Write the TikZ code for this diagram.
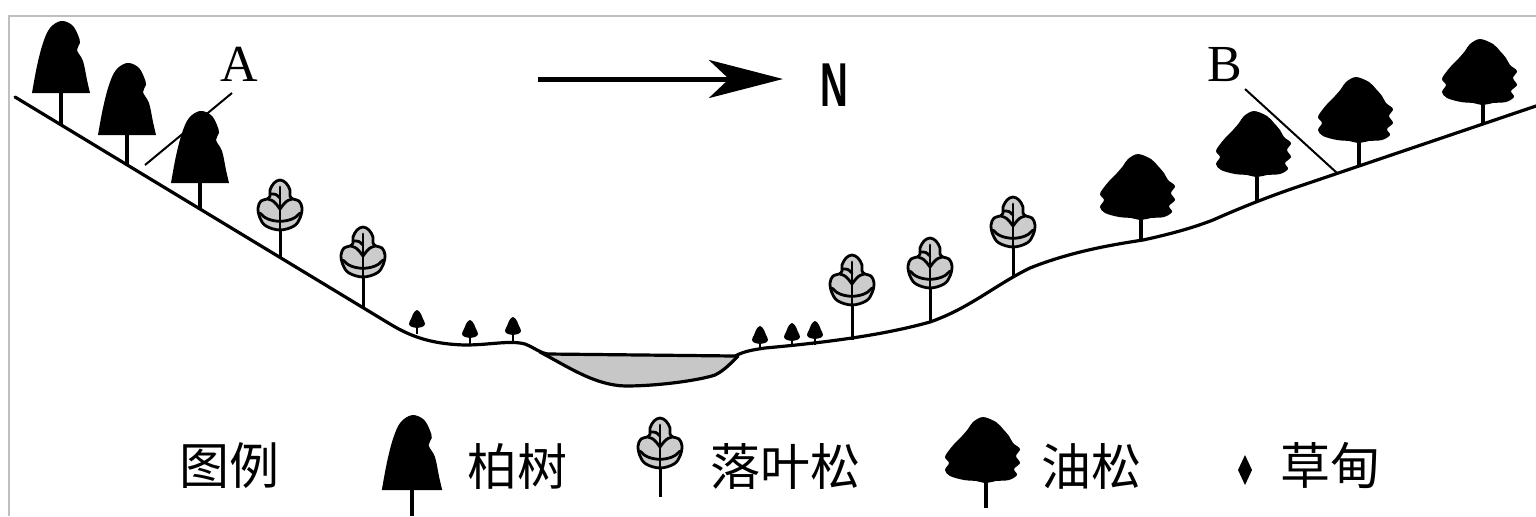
\documentclass[tikz,border=0pt]{standalone}
\usepackage{fontspec}
\setmainfont{Liberation Serif}
\newfontfamily\cjk{Noto Sans CJK SC}
\newfontfamily\sansN{Liberation Sans}
\usetikzlibrary{arrows.meta}
\begin{document}
\begin{tikzpicture}[x=0.5pt,y=-0.5pt,
  ground/.style={line width=1.6pt, line join=round, line cap=round},
  leader/.style={line width=1pt},
  trunk/.style={line width=2.2pt},
  thintrunk/.style={line width=1.5pt},
  larchline/.style={line width=1.4pt, line join=round, line cap=round},
  lbl/.style={font=\cjk\fontsize{25}{25}\selectfont, inner sep=0pt},
  letter/.style={font=\fontsize{26}{26}\selectfont, inner sep=0pt},
  % cypress crown, origin at the crown's bottom centre
  pics/cypress/.style={code={
    \fill plot[smooth, tension=0.6] coordinates {(-29,0) (-24,-27) (-18,-50)
      (-11,-65) (0,-72) (11,-68) (17,-58) (19,-50) (16,-43) (22,-32) (26,-13) (29,0)} -- cycle;
  }},
  % larch crown, origin at the crown's bottom centre
  pics/larch/.style={code={
    \filldraw[larchline, fill=black!20] plot[smooth cycle, tension=0.6] coordinates {
      (0,-50) (6,-47) (10,-40) (10,-34) (13,-31) (19,-29) (22,-22) (20,-12) (14,-4)
      (0,0) (-14,-4) (-20,-12) (-22,-22) (-19,-29) (-13,-31) (-10,-34) (-10,-40) (-6,-47)};
    \draw[larchline] (0,-43) -- (0,0);
    \draw[larchline] (-20,-17) .. controls (-12,-6) and (12,-6) .. (20,-17);
    \draw[larchline] (-12,-31) .. controls (-6,-29) .. (0,-21);
    \draw[larchline] (12,-31) .. controls (6,-29) .. (0,-21);
    \draw[larchline] (-10,-36) .. controls (-4,-36) .. (0,-32);
  }},
  % oil pine crown, origin where the trunk meets the crown
  pics/oilpine/.style={code={
    \fill plot[smooth cycle, tension=0.55] coordinates {(0,0) (10,-2) (23,-3) (31,-8)
      (28,-14) (34,-20) (30,-27) (34,-34) (27,-40) (23,-47) (17,-54) (10,-61) (-3,-66)
      (-13,-61) (-18,-54) (-24,-47) (-30,-41) (-36,-34) (-41,-26) (-37,-20) (-41,-13)
      (-36,-7) (-22,-3) (-10,-2)};
  }},
  % meadow plant, origin on the ground
  pics/grass/.style={code={
    \draw[line width=1.4pt] (0,-8) -- (0,0);
    \fill plot[smooth cycle, tension=0.7] coordinates {(0,-24) (4,-20) (6,-15) (8,-10)
      (5,-7) (0,-6) (-5,-7) (-8,-10) (-6,-15) (-4,-20)};
  }},
  pics/grassmark/.style={code={
    \fill (0,-15) .. controls (3,-7) .. (7,0) .. controls (3,7) .. (0,15)
      .. controls (-3,7) .. (-7,0) .. controls (-3,-7) .. (0,-15) -- cycle;
  }},
]
\useasboundingbox (0,0) rectangle (1536,516);

% frame
\draw[black!25, line width=1pt] (9,516) -- (9,16) -- (1536,16);

% river bed
\fill[black!22] (545,354) .. controls (570,368) and (595,385) .. (625,386)
  .. controls (660,386) and (700,380) .. (715,375)
  .. controls (725,370) and (732,362) .. (738,356) -- cycle;
\draw[ground] (540,352) .. controls (570,368) and (595,385) .. (625,386)
  .. controls (660,386) and (700,380) .. (715,375)
  .. controls (725,370) and (732,362) .. (738,356);

% cypress trees
\foreach \x/\c/\g in {61/93/125, 127/135/165, 200/183/209} {
  \draw[trunk] (\x,\c) -- (\x,\g);
  \pic at (\x,\c) {cypress};
}

% larch trees
\foreach \x/\c/\g in {280/230/258, 363/277/308, 852/305/340, 930/288/322, 1013/247/277} {
  \draw[thintrunk] (\x,\c) -- (\x,\g);
  \pic at (\x,\c) {larch};
}

% oil pines
\foreach \x/\c/\g in {1141/220/240, 1257/177/202, 1359/143/165, 1483/105/125} {
  \draw[trunk] (\x,\c) -- (\x,\g);
  \pic at (\x,\c) {oilpine};
}

% meadow
\foreach \x/\g in {417/334, 470/344, 513/341, 760/350, 792/347, 815/345} {
  \pic at (\x,\g) {grass};
}

% terrain profile
\draw[ground] (15,97) -- (390,324) .. controls (410,336) and (430,344) .. (465,345)
  .. controls (490,345) and (510,340) .. (525,344)
  .. controls (535,348) and (540,353) .. (548,354) -- (735,356)
  .. controls (745,351) and (752,350) .. (765,348)
  .. controls (820,343) and (880,336) .. (930,322)
  .. controls (970,308) and (995,285) .. (1030,268)
  .. controls (1070,252) and (1110,245) .. (1143,240)
  .. controls (1180,232) and (1200,225) .. (1213,220)
  .. controls (1240,208) and (1270,196) .. (1300,186) -- (1536,106);

% labels A and B with leaders
\node[letter] (A) at (239,64) {A};
\coordinate (Atop) at (232,93);
\coordinate (Afoot) at (145,165);
\draw[leader] (Atop) -- (Afoot);
\node[letter] (B) at (1225,65) {B};
\coordinate (Btop) at (1245,89);
\coordinate (Bfoot) at (1337,173);
\draw[leader] (Btop) -- (Bfoot);

% north arrow
\coordinate (arrS) at (538,79);
\coordinate (arrE) at (783,79);
\draw[line width=2.5pt, -{Stealth[length=37pt, width=19pt, inset=10pt]}] (arrS) -- (arrE);
\node[inner sep=0pt, font=\sansN\bfseries\fontsize{31}{31}\selectfont] (N) at (834,85) {\scalebox{0.62}[1]{N}};

% legend
\node[lbl] (legend) at (229,466) {图例};
\draw[trunk] (412,490) -- (412,516);
\pic[scale=1.04] at (412,490) {cypress};
\node[lbl] (cypressLbl) at (517,466) {柏树};
\draw[thintrunk] (660,468) -- (660,497);
\pic at (660,468) {larch};
\node[lbl] (larchLbl) at (785,466) {落叶松};
\draw[trunk] (986,483) -- (986,508);
\pic at (986,483) {oilpine};
\node[lbl] (pineLbl) at (1091,466) {油松};
\pic at (1245,470) {grassmark};
\node[lbl] (grassLbl) at (1330,466) {草甸};
\end{tikzpicture}
\end{document}
